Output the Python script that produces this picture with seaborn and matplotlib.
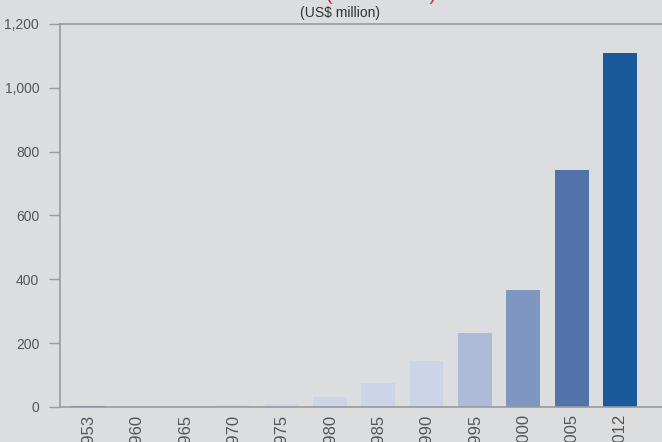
#!/usr/bin/env python3

# plot.py
#
# Bar chart of annual values (US$ million), 1953 - 2012.
import matplotlib
matplotlib.use('Agg')
import matplotlib.pyplot as plt
import matplotlib.ticker as ticker
import pandas as pd
import seaborn as sb

YEARS = ['1953', '1960', '1965', '1970', '1975', '1980', '1985', '1990', '1995', '2000', '2005', '2012']
VALUES = [2, 1, 4, 7, 10, 31, 75, 144, 232, 367, 743, 1110]
COLORS = ['#3f5f9a', '#cfd5e8', '#cfd5e8', '#cfd5e8', '#cfd5e8', '#cdd4e8', '#cdd4e8', '#cdd4e8',
          '#adbbd9', '#7f96c3', '#5272aa', '#1a5a9a']
Y_TICKS = [0, 200, 400, 600, 800, 1000, 1200]

BACKGROUND = '#dcdddf'
AXIS_COLOR = '#9a9a9a'
TEXT_COLOR = '#555555'


if __name__ == '__main__':
  df = pd.DataFrame({'year': YEARS, 'value': VALUES})

  sb.set_style('white')
  plt.rcParams['font.family'] = ['Liberation Sans', 'DejaVu Sans']

  figure = plt.figure(figsize=(6.62, 4.42), dpi=100, facecolor=BACKGROUND)
  axis = figure.add_axes([60 / 662, 35 / 442, 602 / 662, 383 / 442])
  axis.set_facecolor(BACKGROUND)

  sb.barplot(data=df, x='year', y='value', hue='year', palette=COLORS, legend=False,
             width=0.7, saturation=1, linewidth=0, ax=axis)

  # Axis ranges
  axis.set_xlim(-0.58, 11.87)
  axis.set_ylim(0, 1200)
  axis.set_yticks(Y_TICKS)
  axis.yaxis.set_major_formatter(ticker.FuncFormatter(lambda v, p: '{:,.0f}'.format(v)))

  # Spines and ticks
  for side in ['left', 'bottom', 'top']:
    axis.spines[side].set_color(AXIS_COLOR)
    axis.spines[side].set_linewidth(1.2)
  axis.spines['right'].set_visible(False)
  axis.tick_params(axis='y', direction='out', length=8, width=1, color=AXIS_COLOR,
                   labelsize=10, labelcolor=TEXT_COLOR, pad=7, left=True)
  axis.tick_params(axis='x', length=0, labelsize=12, labelcolor=TEXT_COLOR, pad=5, rotation=90)
  for label in axis.get_xticklabels():
    label.set_verticalalignment('top')
  axis.set_xlabel('')
  axis.set_ylabel('')

  # Titles (main title is clipped at the top of the image)
  figure.text(381 / 662, 1.0, '(1953\u20132012)', color='#d0253c', fontsize=14,
              ha='center', va='baseline')
  figure.text(340 / 662, 1 - 13 / 442, '(US$ million)', color='#333333', fontsize=10,
              ha='center', va='center')

  plt.savefig('out.png', dpi=100, facecolor=BACKGROUND)
  plt.close()
